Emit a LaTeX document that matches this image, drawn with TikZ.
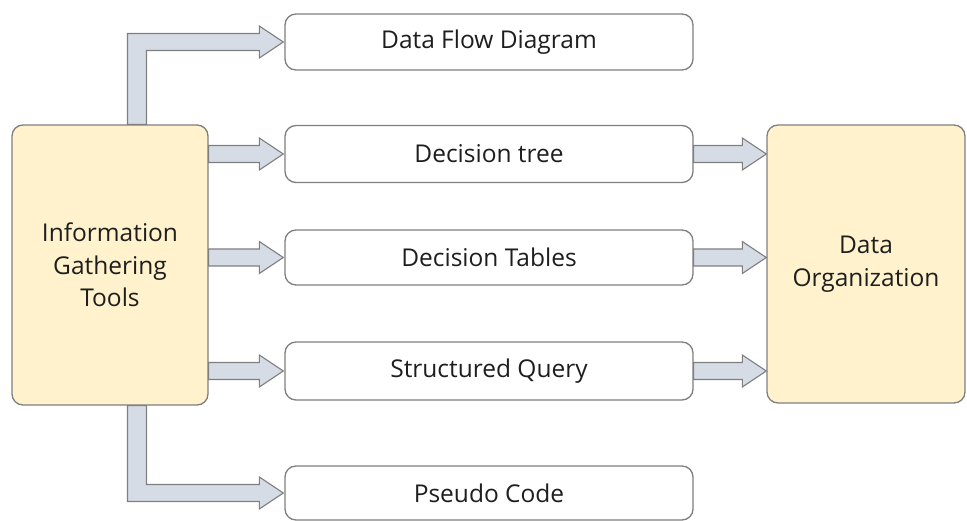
\documentclass[tikz,border=0pt]{standalone}
\usepackage{fontspec}
\setmainfont{Open Sans}
\usetikzlibrary{calc}
\definecolor{boxyellow}{HTML}{FFF2CC}
\definecolor{arrowfill}{HTML}{D6DCE5}
\definecolor{edgegray}{HTML}{7F7F7F}
\definecolor{txt}{HTML}{1E1E1E}
\tikzset{
  yellowbox/.style={draw=edgegray, line width=1.3pt, fill=boxyellow, rounded corners=11pt, align=center, text=txt, font=\fontsize{24.5}{32.5}\selectfont, inner sep=0pt},
  whitebox/.style={draw=edgegray, line width=1.3pt, fill=white, rounded corners=11pt, minimum width=408pt, text=txt, font=\fontsize{24.5}{28}\selectfont, inner sep=0pt},
  blockarrow/.style={draw=edgegray, line width=1.1pt, fill=arrowfill, line join=miter}
}
\newcommand\hblockarrow[2]{%
  \draw[blockarrow] let \p1=(#1), \p2=(#2) in
    (\x1,\y1+8.5pt) -- (\x2-24pt,\y1+8.5pt) -- (\x2-24pt,\y1+16pt) -- (\x2,\y1)
    -- (\x2-24pt,\y1-16pt) -- (\x2-24pt,\y1-8.5pt) -- (\x1,\y1-8.5pt) -- cycle;}
% bent arrow: #1 start point on box edge (x = shaft centre), #2 tip (y = shaft centre)
\newcommand\bblockarrow[2]{%
  \draw[blockarrow] let \p1=(#1), \p2=(#2), \n1={sign(\y2-\y1)} in
    (\x1-9.5pt,\y1) -- (\x1-9.5pt,\y2+\n1*8.5pt) -- (\x2-24pt,\y2+\n1*8.5pt) -- (\x2-24pt,\y2+\n1*16pt)
    -- (\x2,\y2) -- (\x2-24pt,\y2-\n1*16pt) -- (\x2-24pt,\y2-\n1*8.5pt) -- (\x1+9.5pt,\y2-\n1*8.5pt)
    -- (\x1+9.5pt,\y1) -- cycle;}
\begin{document}
\begin{tikzpicture}[x=1pt,y=-1pt]
\useasboundingbox (0,0) rectangle (967,521);
\node[yellowbox, minimum width=196pt, minimum height=280pt] (L) at (110,265) {Information\\Gathering\\Tools};
\node[yellowbox, minimum width=198pt, minimum height=278pt] (R) at (866,264) {Data\\Organization};
\node[whitebox, minimum height=56pt] (D1) at (489,42) {Data Flow Diagram};
\node[whitebox, minimum height=57pt] (D2) at (489,154) {Decision tree};
\node[whitebox, minimum height=55pt] (D3) at (489,257.5) {Decision Tables};
\node[whitebox, minimum height=58pt] (D4) at (489,371) {Structured Query};
\node[whitebox, minimum height=54pt] (D5) at (489,493) {Pseudo Code};
\coordinate (Ltop) at ($(L.north west)!0.637!(L.north east)$);
\coordinate (Lbot) at ($(L.south west)!0.637!(L.south east)$);
\bblockarrow{Ltop}{$(D1.west)+(-1,0)$}
\bblockarrow{Lbot}{$(D5.west)+(-1,0)$}
\hblockarrow{L.east |- D2.west}{$(D2.west)+(-1,0)$}
\hblockarrow{L.east |- D3.west}{$(D3.west)+(-1,0)$}
\hblockarrow{L.east |- D4.west}{$(D4.west)+(-1,0)$}
\hblockarrow{D2.east}{R.west |- D2.east}
\hblockarrow{D3.east}{R.west |- D3.east}
\hblockarrow{D4.east}{R.west |- D4.east}
\end{tikzpicture}
\end{document}
